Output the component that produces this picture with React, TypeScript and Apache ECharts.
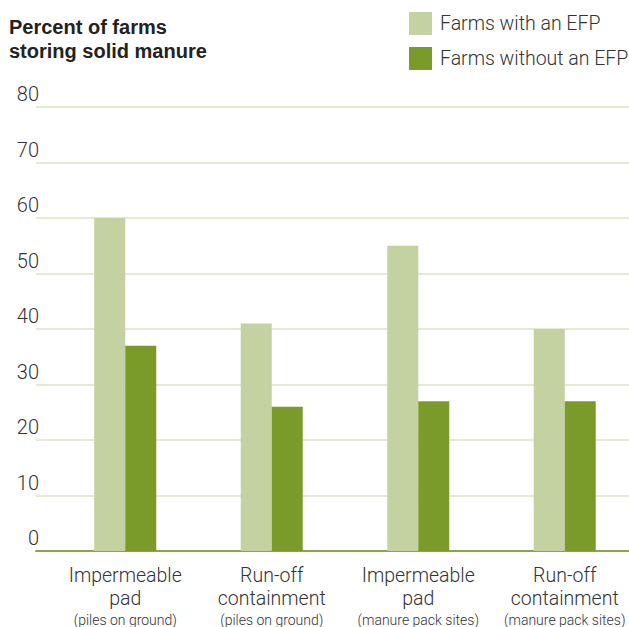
import React, { useEffect, useRef } from "react";
import * as echarts from "echarts";

const categories = [
  "{a|Impermeable}\n{a|pad}\n{b|(piles on ground)}",
  "{a|Run-off}\n{a|containment}\n{b|(piles on ground)}",
  "{a|Impermeable}\n{a|pad}\n{b|(manure pack sites)}",
  "{a|Run-off}\n{a|containment}\n{b|(manure pack sites)}",
];
const withEFP = [60, 41, 55, 40];
const withoutEFP = [37, 26, 27, 27];
const seriesNames = ["Farms with an EFP", "Farms without an EFP"];
const titleText = "Percent of farms\nstoring solid manure";

const FONT = "Roboto, 'Liberation Sans', sans-serif";

export default function App() {
  const ref = useRef<HTMLDivElement>(null);
  useEffect(() => {
    if (!ref.current) return;
    const chart = echarts.init(ref.current, undefined, { renderer: "svg" });
    chart.setOption({
      animation: false,
      backgroundColor: "#ffffff",
      title: {
        text: titleText,
        left: 4,
        top: 10,
        textStyle: {
          fontFamily: "'Liberation Sans', Arial, sans-serif",
          fontSize: 20,
          fontWeight: "bold",
          color: "#222222",
          lineHeight: 24,
        },
      },
      legend: {
        left: 404,
        top: 7,
        orient: "vertical",
        itemWidth: 23,
        itemHeight: 23,
        itemGap: 12,
        icon: "rect",
        data: seriesNames,
        textStyle: { fontFamily: FONT, fontWeight: 300, fontSize: 19.5, color: "#333333", padding: [0, 0, 0, 3] },
      },
      grid: [
        { left: 36, right: 0, top: 107, bottom: 76, outerBoundsMode: "none" },
        { left: 52, right: -9, top: 107, bottom: 76, outerBoundsMode: "none" },
      ],
      xAxis: [
        {
          type: "category",
          gridIndex: 0,
          data: categories,
          axisLine: { show: true, lineStyle: { color: "#8aa64a", width: 2 } },
          axisTick: { show: false },
          axisLabel: { show: false },
          splitLine: { show: false },
        },
        {
          type: "category",
          gridIndex: 1,
          data: categories,
          axisLine: { show: false },
          axisTick: { show: false },
          axisLabel: {
            interval: 0,
            margin: 13,
            color: "#333333",
            fontFamily: FONT,
            rich: {
              a: { fontFamily: FONT, fontWeight: 300, fontSize: 19.5, lineHeight: 23, color: "#333333" },
              b: { fontFamily: FONT, fontWeight: 300, fontSize: 14, lineHeight: 19, color: "#333333" },
            },
          },
        },
      ],
      yAxis: [
        {
          type: "value",
          gridIndex: 0,
          min: 0,
          max: 80,
          interval: 10,
          axisLine: { show: false },
          axisTick: { show: false },
          splitLine: { show: true, lineStyle: { color: "#e6e9d4", width: 2 } },
          axisLabel: {
            margin: -3,
            color: "#333333",
            verticalAlign: "middle",
            formatter: (v: number) => `{v|${v}}\n{g| }`,
            rich: {
              v: { fontFamily: FONT, fontWeight: 300, fontSize: 20, lineHeight: 20, color: "#333333", align: "right" },
              g: { fontSize: 10, lineHeight: 26, align: "right" },
            },
          },
        },
        {
          type: "value",
          gridIndex: 1,
          min: 0,
          max: 80,
          interval: 10,
          show: false,
          splitLine: { show: false },
        },
      ],
      series: [
        {
          name: seriesNames[0],
          type: "bar",
          xAxisIndex: 1,
          yAxisIndex: 1,
          data: withEFP,
          barWidth: 31,
          barGap: "0%",
          itemStyle: { color: "#c4d1a0" },
        },
        {
          name: seriesNames[1],
          type: "bar",
          xAxisIndex: 1,
          yAxisIndex: 1,
          data: withoutEFP,
          barWidth: 31,
          barGap: "0%",
          itemStyle: { color: "#7a9b29" },
        },
      ],
    });
    return () => chart.dispose();
  }, []);
  return <div ref={ref} style={{ width: 629, height: 627, position: "absolute", left: 0, top: 0 }} />;
}
